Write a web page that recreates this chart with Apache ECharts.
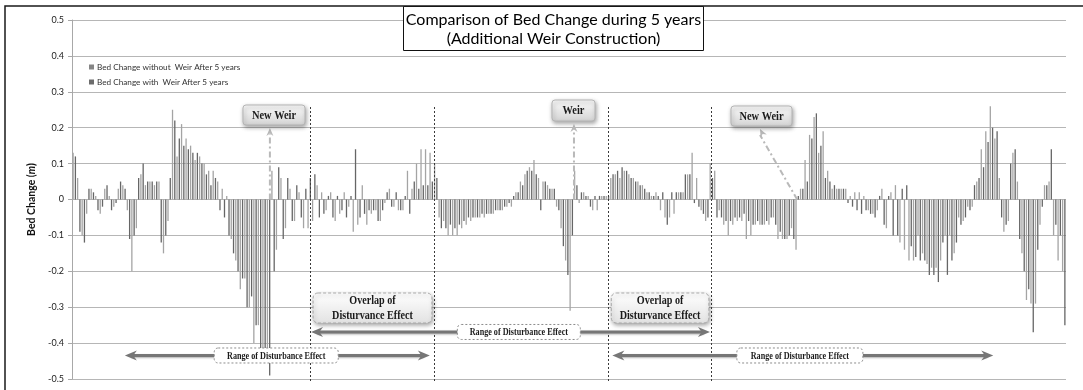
<!DOCTYPE html>
<html>
<head>
<meta charset="utf-8">
<script src="https://cdn.jsdelivr.net/npm/echarts@6/dist/echarts.min.js"></script>
<style>
  html, body { margin: 0; padding: 0; background: #fff; }
  #c { width: 1083px; height: 390px; }
</style>
</head>
<body>
<div id="c"></div>
<script>
// Bed change (m) along the river reach, one value per cross-section, after 5 years.
const withoutWeir = [
  0.13, 0.06, -0.10, -0.04, 0.03, 0.01, -0.04, 0.03, 0.01, -0.02,
  0.03, 0.04, -0.03, -0.20, -0.08, 0.07, 0.04, 0.05, 0.04, 0.05,
  -0.15, -0.06, 0.25, 0.12, 0.21, 0.17, 0.15, 0.11, 0.12, 0.10,
  0.08, 0.08, 0.05, 0.03, 0.01, -0.11, -0.17, -0.25, -0.22, -0.30,
  -0.40, -0.35, -0.42, -0.42, 0.08, -0.14, 0.06, -0.08, 0.03, -0.06,
  0.02, -0.08, -0.08, -0.06, 0.04, 0.02, -0.03, 0.02, -0.06, -0.04,
  0.02, -0.02, -0.09, -0.07, 0.04, -0.07, -0.04, -0.03, -0.06, -0.01,
  0.03, -0.02, -0.03, -0.03, 0.08, 0.03, 0.10, 0.14, 0.14, 0.13,
  0.10, -0.05, -0.06, -0.10, -0.10, -0.10, -0.08, -0.07, -0.06, -0.05,
  -0.05, -0.05, -0.04, -0.04, -0.03, -0.03, -0.02, -0.02, 0.02, 0.05,
  0.07, 0.09, 0.11, 0.06, 0.05, 0.04, 0.03, -0.02, -0.08, -0.17,
  -0.31, 0.08, -0.01, 0.02, 0.01, -0.03, -0.03, 0.01, 0.01, 0.06,
  0.07, 0.06, 0.08, 0.07, 0.06, 0.05, 0.04, 0.02, 0.01, 0.02,
  -0.03, -0.05, -0.05, -0.04, 0.02, 0.02, 0.07, 0.13, 0.06, -0.03,
  -0.06, 0.10, 0.08, -0.03, -0.07, -0.10, -0.07, -0.06, -0.06, -0.11,
  -0.10, -0.07, -0.07, -0.07, -0.07, -0.05, -0.11, -0.11, -0.11, -0.08,
  -0.14, 0.03, 0.11, 0.18, 0.23, 0.13, 0.19, 0.08, 0.03, 0.03,
  0.03, 0.03, 0.01, 0.02, 0.02, 0.01, -0.03, -0.04, -0.03, 0.03,
  -0.08, 0.02, 0.04, -0.12, -0.14, -0.17, -0.17, -0.10, -0.15, -0.18,
  -0.19, -0.19, -0.17, -0.10, -0.10, -0.15, -0.05, -0.06, -0.02, -0.02,
  0.05, 0.14, 0.19, 0.26, 0.17, 0.06, -0.09, -0.06, 0.13, 0.05,
  -0.15, -0.28, -0.29, -0.29, -0.07, 0.04, 0.05, -0.10, -0.17, -0.20
];
const withWeir = [
  0.12, -0.09, -0.12, 0.03, 0.02, -0.03, -0.02, 0.04, -0.03, -0.01,
  0.05, 0.03, -0.11, -0.10, 0.06, 0.10, 0.05, 0.05, 0.05, -0.12,
  -0.10, 0.06, 0.22, 0.17, 0.15, 0.14, 0.13, 0.13, 0.10, 0.07,
  0.04, 0.06, -0.03, -0.05, -0.10, -0.15, -0.20, -0.22, -0.30, -0.27,
  -0.35, -0.42, -0.42, -0.49, -0.20, 0.09, -0.11, 0.06, -0.06, 0.04,
  -0.05, 0.03, 0.06, 0.07, -0.05, -0.04, 0.01, -0.05, 0.01, -0.03,
  -0.05, 0.01, 0.14, -0.05, -0.04, -0.03, -0.03, -0.06, -0.03, 0.02,
  -0.02, 0.02, -0.03, 0.01, -0.04, 0.05, 0.03, 0.04, 0.04, 0.05,
  0.06, -0.08, -0.08, -0.07, -0.08, -0.07, -0.06, -0.05, -0.05, -0.05,
  -0.04, -0.04, -0.04, -0.03, -0.03, -0.02, -0.01, 0.01, 0.02, 0.04,
  0.08, 0.08, 0.07, -0.03, 0.05, 0.03, 0.03, -0.03, -0.13, -0.21,
  -0.10, 0.04, 0.02, 0.01, -0.02, 0.01, 0.01, 0.01, 0.01, 0.07,
  0.08, 0.09, 0.08, 0.06, 0.05, 0.04, 0.03, 0.02, 0.01, 0.01,
  0.02, -0.07, 0.02, 0.02, 0.02, 0.07, 0.07, -0.01, -0.02, -0.04,
  -0.05, 0.06, -0.05, -0.05, -0.06, -0.06, -0.05, -0.05, -0.04, -0.06,
  -0.07, -0.06, -0.07, -0.06, -0.05, -0.07, -0.09, -0.11, -0.10, -0.11,
  0.01, 0.03, 0.05, 0.17, 0.24, 0.15, 0.06, 0.05, 0.04, 0.03,
  0.03, -0.01, -0.02, -0.03, -0.04, -0.03, -0.04, -0.05, 0.01, -0.07,
  0.01, -0.10, -0.10, 0.03, 0.04, -0.13, -0.16, -0.17, -0.17, -0.21,
  -0.21, -0.23, -0.12, -0.21, -0.17, -0.12, -0.07, -0.05, -0.03, 0.04,
  0.06, 0.09, 0.16, 0.20, 0.19, -0.05, -0.07, 0.10, 0.14, -0.11,
  -0.20, -0.25, -0.37, -0.14, -0.02, 0.04, 0.14, -0.07, -0.10, -0.35
];
// Cross-section numbers (not labelled on the axis)
const sections = withoutWeir.map((_, i) => 'No.' + (i + 1));
const seriesNames = ['Bed Change without  Weir After 5 years', 'Bed Change with  Weir After 5 years'];
const yTicks = { min: -0.5, max: 0.5, step: 0.1 };

// Annotation layout, in cross-section positions
const weirTags = [
  { text: 'New Weir', at: 43.3, box: [243, 105, 62, 20], tip: null },
  { text: 'Weir',     at: 110.6, box: [552, 100, 43, 21], tip: null },
  { text: 'New Weir', at: 160.0, box: [731, 106, 61, 20], tip: 760 }
];
const boundaries = [52.2, 79.6, 118.2, 140.9];
const overlaps = [[0, 1], [2, 3]];
const ranges = [
  { from: 11.2, to: 78.7, level: -0.4345, tag: 44.7, w: 124 },
  { from: 52.4, to: 140.7, level: -0.369, tag: 98.4, w: 123 },
  { from: 119.1, to: 203.4, level: -0.4345, tag: 160.6, w: 126 }
];

const UI_FONT = 'Lato, "Open Sans", sans-serif';
const TAG_FONT = '"Liberation Serif", "DejaVu Serif", serif';

const chart = echarts.init(document.getElementById('c'), null, { renderer: 'canvas' });

chart.setOption({
  animation: false,
  backgroundColor: '#ffffff',
  grid: { left: 72, right: 17, top: 20, bottom: 11 },
  legend: {
    orient: 'vertical',
    left: 84,
    top: 58,
    itemWidth: 5,
    itemHeight: 5,
    itemGap: 7,
    icon: 'rect',
    selectedMode: false,
    textStyle: { fontFamily: UI_FONT, fontSize: 8.2, color: '#333', padding: [0, 0, 0, -2] },
    data: [
      { name: seriesNames[0], itemStyle: { color: '#858585' } },
      { name: seriesNames[1], itemStyle: { color: '#6c6c6c' } }
    ]
  },
  xAxis: {
    type: 'category',
    data: sections,
    axisLine: { show: false },
    axisTick: { show: false },
    axisLabel: { show: false },
    splitLine: { show: false }
  },
  yAxis: {
    type: 'value',
    min: yTicks.min,
    max: yTicks.max,
    interval: yTicks.step,
    name: '{b|Bed Change (}{i|m}{b|)}',
    nameLocation: 'middle',
    nameGap: 35,
    nameTextStyle: {
      rich: {
        b: { fontFamily: UI_FONT, fontSize: 10.5, fontWeight: 'bold', color: '#111' },
        i: { fontFamily: UI_FONT, fontSize: 10.5, fontWeight: 'bold', fontStyle: 'italic', color: '#111' }
      }
    },
    axisLine: { show: true, lineStyle: { color: '#a8a8a8', width: 1 } },
    axisTick: { show: true, length: 4, lineStyle: { color: '#a8a8a8' } },
    axisLabel: {
      margin: 8,
      fontFamily: UI_FONT,
      fontSize: 9,
      color: '#222',
      formatter: v => (Math.abs(v) < 1e-9 ? '0' : String(Math.round(v * 10) / 10))
    },
    splitLine: { lineStyle: { color: '#b6b6b6', width: 1 } }
  },
  series: [
    {
      name: seriesNames[0],
      type: 'bar',
      data: withoutWeir,
      barWidth: 1.3,
      barGap: '75%',
      silent: true,
      itemStyle: { color: '#a4a4a4' }
    },
    {
      name: seriesNames[1],
      type: 'bar',
      data: withWeir,
      barWidth: 1.3,
      barGap: '75%',
      silent: true,
      itemStyle: { color: '#666666' }
    }
  ]
});

// ---- annotations placed on the axis scales ----
const px0 = chart.convertToPixel({ xAxisIndex: 0 }, 0);
const px1 = chart.convertToPixel({ xAxisIndex: 0 }, 1);
const xAt = f => px0 + f * (px1 - px0);
const yAt = v => chart.convertToPixel({ yAxisIndex: 0 }, v);
const yZero = yAt(0);
const yBottom = yAt(yTicks.min);

const shadow = { shadowBlur: 4, shadowColor: 'rgba(0,0,0,0.35)', shadowOffsetX: 1, shadowOffsetY: 2 };
const gradFill = (a, b) => new echarts.graphic.LinearGradient(0, 0, 0, 1, [
  { offset: 0, color: a }, { offset: 1, color: b }
]);

function condensedText(cx, cy, text, size, squeeze, z) {
  return {
    type: 'group', x: cx, y: cy, scaleX: squeeze, z: z, silent: true,
    children: [{
      type: 'text', z: z,
      style: { text: text, x: 0, y: 0, align: 'center', verticalAlign: 'middle',
               font: 'bold ' + size + 'px ' + TAG_FONT, fill: '#1a1a1a' }
    }]
  };
}

function head(x, y, dx, dy, len, half, color, z) {
  // notched arrow head pointing along (dx, dy)
  const n = Math.hypot(dx, dy); const ux = dx / n, uy = dy / n;
  const px = -uy, py = ux;
  return {
    type: 'polygon', z: z, silent: true,
    shape: { points: [
      [x, y],
      [x - ux * len + px * half, y - uy * len + py * half],
      [x - ux * len * 0.7, y - uy * len * 0.7],
      [x - ux * len - px * half, y - uy * len - py * half]
    ] },
    style: { fill: color }
  };
}

const g = [];

// outer frame
g.push({ type: 'rect', z: 50, silent: true, shape: { x: 5, y: 6, width: 1100, height: 400 },
         style: { fill: 'none', stroke: '#1a1a1a', lineWidth: 1.5 } });

// title
g.push({ type: 'rect', z: 40, silent: true, shape: { x: 403.5, y: 6.5, width: 300, height: 44 },
         style: { fill: '#fff', stroke: '#111', lineWidth: 1 } });
g.push({ type: 'text', z: 41, silent: true,
         style: { text: 'Comparison of Bed Change during 5 years', x: 553.5, y: 20, align: 'center',
                  verticalAlign: 'middle', font: '16px ' + UI_FONT, fill: '#000' } });
g.push({ type: 'text', z: 41, silent: true,
         style: { text: '(Additional Weir Construction)', x: 553.5, y: 39, align: 'center',
                  verticalAlign: 'middle', font: '16px ' + UI_FONT, fill: '#000' } });

// boundaries of the disturbance reaches
boundaries.forEach(f => {
  const x = Math.round(xAt(f)) + 0.5;
  g.push({ type: 'line', z: 20, silent: true, shape: { x1: x, y1: 107, x2: x, y2: yBottom + 2 },
           style: { stroke: '#3a3a3a', lineWidth: 1, lineDash: [2, 2] } });
});

// weir locations
weirTags.forEach(t => {
  const bx = xAt(t.at);
  const [x, y, w, h] = t.box;
  const tipX = t.tip == null ? bx : t.tip;
  const tipY = y + h + 3;
  g.push({ type: 'line', z: 21, silent: true, shape: { x1: bx, y1: yZero, x2: tipX, y2: tipY + 6 },
           style: { stroke: '#b9b9b9', lineWidth: 2, lineDash: [6, 3, 2, 3] } });
  g.push(head(tipX, tipY, tipX - bx, tipY - yZero, 8, 3.5, '#b9b9b9', 21));
  g.push({ type: 'rect', z: 22, silent: true, shape: { x: x, y: y, width: w, height: h, r: 3 },
           style: Object.assign({ fill: gradFill('#fbfbfb', '#d4d4d4'), stroke: '#b5b5b5', lineWidth: 1 }, shadow) });
  g.push(condensedText(x + w / 2, y + h / 2 + 0.5, t.text, 13, 0.8, 23));
});

// overlap boxes between successive boundaries
overlaps.forEach(([a, b]) => {
  const x1 = xAt(boundaries[a]) + 3, x2 = xAt(boundaries[b]) - 2;
  g.push({ type: 'rect', z: 22, silent: true, shape: { x: x1, y: 293, width: x2 - x1, height: 30, r: 5 },
           style: Object.assign({ fill: gradFill('#ffffff', '#e2e2e2'), stroke: '#a9a9a9', lineWidth: 1, lineDash: [3, 2] }, shadow) });
  g.push(condensedText((x1 + x2) / 2, 301, 'Overlap of', 13, 0.78, 23));
  g.push(condensedText((x1 + x2) / 2, 316, 'Disturvance Effect', 13, 0.78, 23));
});

// range arrows
ranges.forEach(r => {
  const xa = xAt(r.from), xb = xAt(r.to), y = yAt(r.level);
  g.push({ type: 'line', z: 24, silent: true, shape: { x1: xa + 6, y1: y, x2: xb - 6, y2: y },
           style: Object.assign({ stroke: '#767676', lineWidth: 3 }, { shadowBlur: 2, shadowColor: 'rgba(0,0,0,0.3)', shadowOffsetY: 1 }) });
  g.push(head(xa, y, -1, 0, 12, 5, '#767676', 24));
  g.push(head(xb, y, 1, 0, 12, 5, '#767676', 24));
  const cx = xAt(r.tag);
  g.push({ type: 'rect', z: 25, silent: true, shape: { x: cx - r.w / 2, y: y - 7.5, width: r.w, height: 15, r: 4 },
           style: { fill: '#fff', stroke: '#8c8c8c', lineWidth: 1, lineDash: [2, 2] } });
  g.push(condensedText(cx, y + 0.5, 'Range of Disturbance Effect', 11, 0.74, 26));
});

chart.setOption({ graphic: { elements: g } });
</script>
</body>
</html>
